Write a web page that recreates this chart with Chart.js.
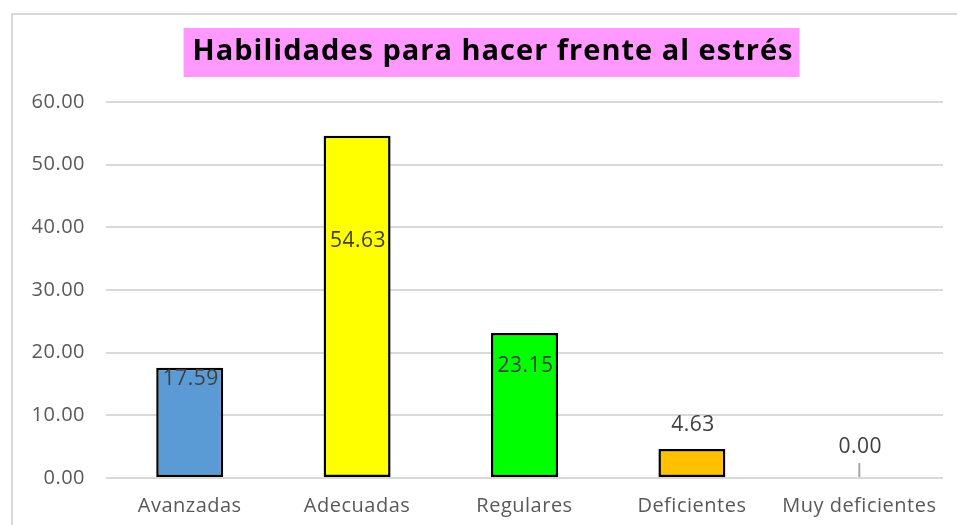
<!DOCTYPE html>
<html>
<head>
<meta charset="utf-8">
<script src="https://cdn.jsdelivr.net/npm/chart.js@4"></script>
<style>
  html, body { margin: 0; padding: 0; background: #fff; }
  #wrap { position: relative; width: 957px; height: 525px; overflow: hidden; }
  #frame { position: absolute; left: 11px; top: 13px; width: 1000px; height: 600px; border: 2px solid #d9d9d9; box-sizing: border-box; }
  #chart { position: absolute; left: 0; top: 0; }
</style>
</head>
<body>
<div id="wrap">
  <div id="frame"></div>
  <canvas id="chart" width="957" height="525"></canvas>
</div>
<script>
// datos
const categorias = ["Avanzadas", "Adecuadas", "Regulares", "Deficientes", "Muy deficientes"];
const porcentajes = [17.59, 54.63, 23.15, 4.63, 0.00];
const colores = ["#5b9bd5", "#ffff00", "#00ff00", "#ffc000", "#a5a5a5"];
const yTicks = [0, 10, 20, 30, 40, 50, 60];

// posicion de las etiquetas respecto al extremo de la barra (px)
const labelOffset = [11, 105, 33, -24, -31];

const titulo = "Habilidades para hacer frente al estrés";

// titulo con caja rosa (+ espaciado de letras para todo el texto)
const tituloCaja = {
  id: "tituloCaja",
  beforeDraw(chart) {
    const c = chart.ctx;
    const cx = 492, cy = 52;
    c.save();
    c.font = "bold 29px 'Open Sans', sans-serif";
    c.letterSpacing = "1px";
    const w = c.measureText(titulo).width;
    c.fillStyle = "#ff99ff";
    c.fillRect(cx - w / 2 - 8, cy - 24, w + 15, 49);
    c.fillStyle = "#000000";
    c.textAlign = "center";
    c.textBaseline = "middle";
    c.fillText(titulo, cx + 1, cy);
    c.restore();
    c.letterSpacing = "0.5px";
  }
};

// etiquetas de datos
const etiquetas = {
  id: "etiquetas",
  afterDatasetsDraw(chart) {
    const c = chart.ctx;
    const meta = chart.getDatasetMeta(0);
    c.save();
    c.font = "21px 'Open Sans', sans-serif";
    c.letterSpacing = "0.5px";
    c.fillStyle = "#404040";
    c.textAlign = "center";
    c.textBaseline = "middle";
    meta.data.forEach((bar, i) => {
      const v = porcentajes[i];
      c.fillText(v.toFixed(2), bar.x + 1, bar.y + labelOffset[i]);
      if (v === 0) {
        c.strokeStyle = "#a6a6a6";
        c.lineWidth = 2;
        c.beginPath();
        c.moveTo(bar.x, bar.y - 15);
        c.lineTo(bar.x, bar.y - 1);
        c.stroke();
      }
    });
    c.restore();
  }
};

const ctx = document.getElementById("chart").getContext("2d");
new Chart(ctx, {
  type: "bar",
  data: {
    labels: categorias,
    datasets: [{
      data: porcentajes,
      backgroundColor: colores,
      borderColor: "#000000",
      borderWidth: c => (c.raw === 0 ? 0 : 2.5),
      borderSkipped: false,
      barPercentage: 0.4,
      categoryPercentage: 1
    }]
  },
  options: {
    responsive: false,
    animation: false,
    layout: { padding: { left: 16, right: 14, top: 102, bottom: 8 } },
    plugins: {
      legend: { display: false },
      tooltip: { enabled: false },
      title: { display: false }
    },
    scales: {
      x: {
        afterFit(scale) { scale.height = 39; },
        grid: { display: false, drawTicks: false },
        border: { display: false },
        ticks: {
          color: "#595959",
          font: { family: "'Open Sans', sans-serif", size: 20 },
          padding: 16,
          maxRotation: 0
        }
      },
      y: {
        min: 0,
        max: 60,
        afterFit(scale) { scale.width = 90; },
        afterBuildTicks(scale) { scale.ticks = yTicks.map(v => ({ value: v })); },
        grid: { color: "#d9d9d9", lineWidth: 2, drawTicks: false },
        border: { display: false },
        ticks: {
          color: "#595959",
          font: { family: "'Open Sans', sans-serif", size: 20 },
          padding: 21,
          callback: v => v.toFixed(2)
        }
      }
    }
  },
  plugins: [tituloCaja, etiquetas]
});
</script>
</body>
</html>
